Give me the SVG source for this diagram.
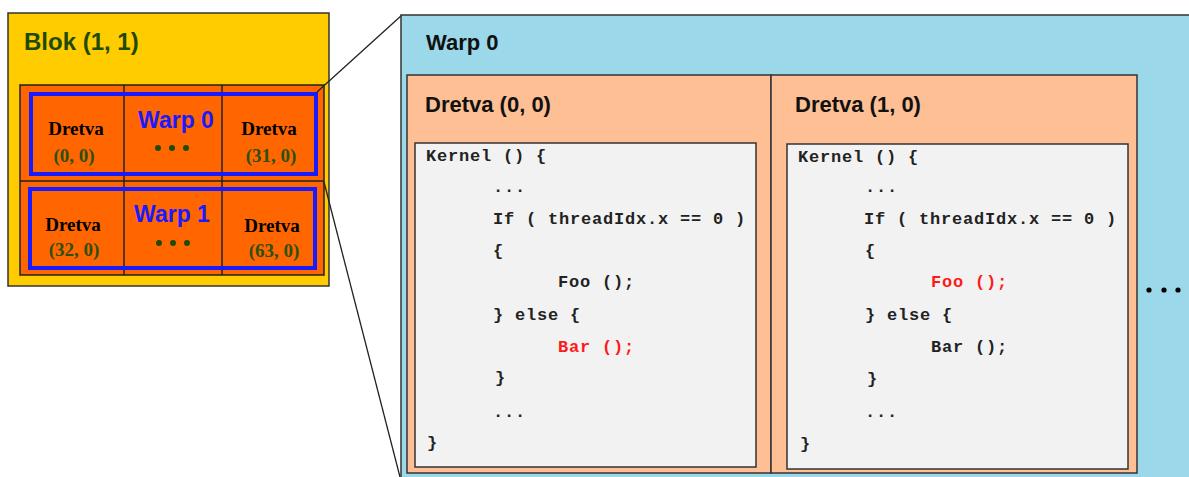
<svg xmlns="http://www.w3.org/2000/svg" width="1189" height="477" viewBox="0 0 1189 477">
<style>
.frame{stroke:#333;stroke-width:1.5}
.warpbox{fill:none;stroke:#1a1aff;stroke-width:4}
.thr{font-family:"Liberation Serif",serif;font-weight:bold;font-size:19px;text-anchor:middle}
.idx{fill:#2d5010}
.warpl{font-family:"Liberation Sans",Arial,sans-serif;font-weight:bold;font-size:23px;fill:#1a1aff;text-anchor:middle}
.head{font-family:"Liberation Sans",Arial,sans-serif;font-weight:bold;font-size:22px;fill:#111}
.code{font-family:"Liberation Mono","Courier New",monospace;font-weight:bold;font-size:17px;letter-spacing:0.8px;fill:#222}
.red{fill:#ff1a1a}
.conn{stroke:#222;stroke-width:1.3;fill:none}
</style>
<rect width="1189" height="477" fill="#fff"/>

<g id="block">
<rect x="8" y="13" width="321" height="273" fill="#FFCC00" class="frame"/>
<text x="24" y="50" font-family="Liberation Sans,Arial,sans-serif" font-weight="bold" font-size="24" fill="#1f4a00">Blok (1, 1)</text>
<rect x="20" y="85" width="304" height="190" fill="#FF6600" stroke="#222" stroke-width="1.5"/>
<line x1="20" y1="181" x2="324" y2="181" stroke="#222" stroke-width="1.5"/>
<line x1="124" y1="85" x2="124" y2="275" stroke="#222" stroke-width="1.5"/>
<line x1="222" y1="85" x2="222" y2="275" stroke="#222" stroke-width="1.5"/>
</g>

<g id="warp0-small">
<rect x="31" y="94" width="285" height="80" class="warpbox"/>
<text x="76" y="135" class="thr">Dretva</text>
<text x="74" y="162" class="thr idx">(0, 0)</text>
<text x="176" y="128" class="warpl">Warp 0</text>
<circle cx="158" cy="148" r="3" fill="#1f4a00"/>
<circle cx="172" cy="148" r="3" fill="#1f4a00"/>
<circle cx="186" cy="148" r="3" fill="#1f4a00"/>
<text x="269" y="135" class="thr">Dretva</text>
<text x="271" y="162" class="thr idx">(31, 0)</text>
</g>

<g id="warp1-small">
<rect x="30" y="189" width="285" height="79" class="warpbox"/>
<text x="73" y="231" class="thr">Dretva</text>
<text x="74" y="256" class="thr idx">(32, 0)</text>
<text x="172" y="222" class="warpl">Warp 1</text>
<circle cx="159" cy="243" r="3" fill="#1f4a00"/>
<circle cx="173" cy="243" r="3" fill="#1f4a00"/>
<circle cx="187" cy="243" r="3" fill="#1f4a00"/>
<text x="272" y="232" class="thr">Dretva</text>
<text x="274" y="257" class="thr idx">(63, 0)</text>
</g>

<g id="connectors">
<line x1="317" y1="92" x2="402" y2="15" class="conn"/>
<line x1="324" y1="182" x2="400" y2="477" class="conn"/>
</g>

<g id="warp0">
<rect x="401" y="15" width="800" height="475" fill="#9BD8EA" class="frame"/>
<text x="426" y="50" class="head">Warp 0</text>
<circle cx="1149" cy="290" r="2.6" fill="#000"/>
<circle cx="1164" cy="290" r="2.6" fill="#000"/>
<circle cx="1178" cy="290" r="2.6" fill="#000"/>
</g>

<g id="thread00">
<rect x="407" y="75" width="364" height="398" fill="#FFBF94" class="frame"/>
<text x="425" y="112" class="head">Dretva (0, 0)</text>
<rect x="415" y="143" width="341" height="324" fill="#F2F2F2" class="frame"/>
<text x="426" y="161" class="code">Kernel () {</text>
<text x="493" y="192" class="code">...</text>
<text x="493" y="224" class="code">If ( threadIdx.x == 0 )</text>
<text x="493" y="256" class="code">{</text>
<text x="558" y="287" class="code">Foo ();</text>
<text x="493" y="320" class="code">} else {</text>
<text x="558" y="352" class="code red">Bar ();</text>
<text x="495" y="383" class="code">}</text>
<text x="493" y="417" class="code">...</text>
<text x="427" y="448" class="code">}</text>
</g>

<g id="thread10">
<rect x="771" y="75" width="366" height="398" fill="#FFBF94" class="frame"/>
<text x="795" y="112" class="head">Dretva (1, 0)</text>
<rect x="787" y="144" width="341" height="325" fill="#F2F2F2" class="frame"/>
<text x="798" y="162" class="code">Kernel () {</text>
<text x="865" y="192" class="code">...</text>
<text x="864" y="224" class="code">If ( threadIdx.x == 0 )</text>
<text x="865" y="256" class="code">{</text>
<text x="931" y="287" class="code red">Foo ();</text>
<text x="865" y="320" class="code">} else {</text>
<text x="931" y="352" class="code">Bar ();</text>
<text x="867" y="384" class="code">}</text>
<text x="865" y="417" class="code">...</text>
<text x="800" y="449" class="code">}</text>
</g>
</svg>
